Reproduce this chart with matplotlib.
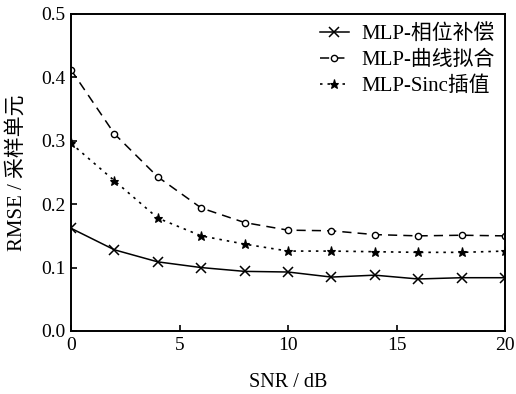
import matplotlib
matplotlib.use("Agg")
import matplotlib.pyplot as plt

plt.rcParams['font.family'] = ['Liberation Serif', 'Noto Sans CJK SC']

snr = [0, 2, 4, 6, 8, 10, 12, 14, 16, 18, 20]
phase_comp = [0.162, 0.128, 0.109, 0.100, 0.094, 0.093, 0.085, 0.088, 0.082, 0.084, 0.084]
curve_fit = [0.412, 0.311, 0.243, 0.194, 0.171, 0.159, 0.158, 0.152, 0.150, 0.151, 0.150]
sinc_interp = [0.296, 0.237, 0.178, 0.150, 0.137, 0.126, 0.126, 0.125, 0.124, 0.124, 0.126]
labels = ['MLP-相位补偿', 'MLP-曲线拟合', 'MLP-Sinc插值']

fig = plt.figure(figsize=(5.16, 3.94), dpi=100)
ax = fig.add_axes([0.1376, 0.16, 0.8411, 0.8045])

ax.plot(snr, phase_comp, color='black', linestyle='-', linewidth=1.1,
        marker='x', markersize=6.5, markeredgewidth=1.1, label=labels[0])
ax.plot(snr, curve_fit, color='black', linestyle=(0, (6, 4)), linewidth=1.1,
        marker='o', markersize=4.5, markerfacecolor='white',
        markeredgewidth=1.0, label=labels[1])
ax.plot(snr, sinc_interp, color='black', linestyle=(0, (1.5, 3)), linewidth=1.2,
        marker='*', markersize=6.5, markeredgewidth=0.8, label=labels[2])

ax.set_xlim(0, 20)
ax.set_ylim(0, 0.5)
ax.set_xticks([0, 5, 10, 15, 20])
ax.set_yticks([0.0, 0.1, 0.2, 0.3, 0.4, 0.5])
ax.set_yticklabels(['0.0', '0.1', '0.2', '0.3', '0.4', '0.5'])
ax.tick_params(direction='in', length=4, width=1.2, labelsize=14, pad=4,
               top=False, right=False)
for s in ax.spines.values():
    s.set_linewidth(1.4)

ax.set_xlabel('SNR / dB', fontsize=14.5, labelpad=14)
ax.set_ylabel('RMSE / 采样单元', fontsize=15, labelpad=10)

ax.legend(loc='upper right', frameon=False, fontsize=15, handlelength=1.4,
          handletextpad=0.6, labelspacing=0.3, borderaxespad=0.1)

fig.savefig('out.png', dpi=100)
